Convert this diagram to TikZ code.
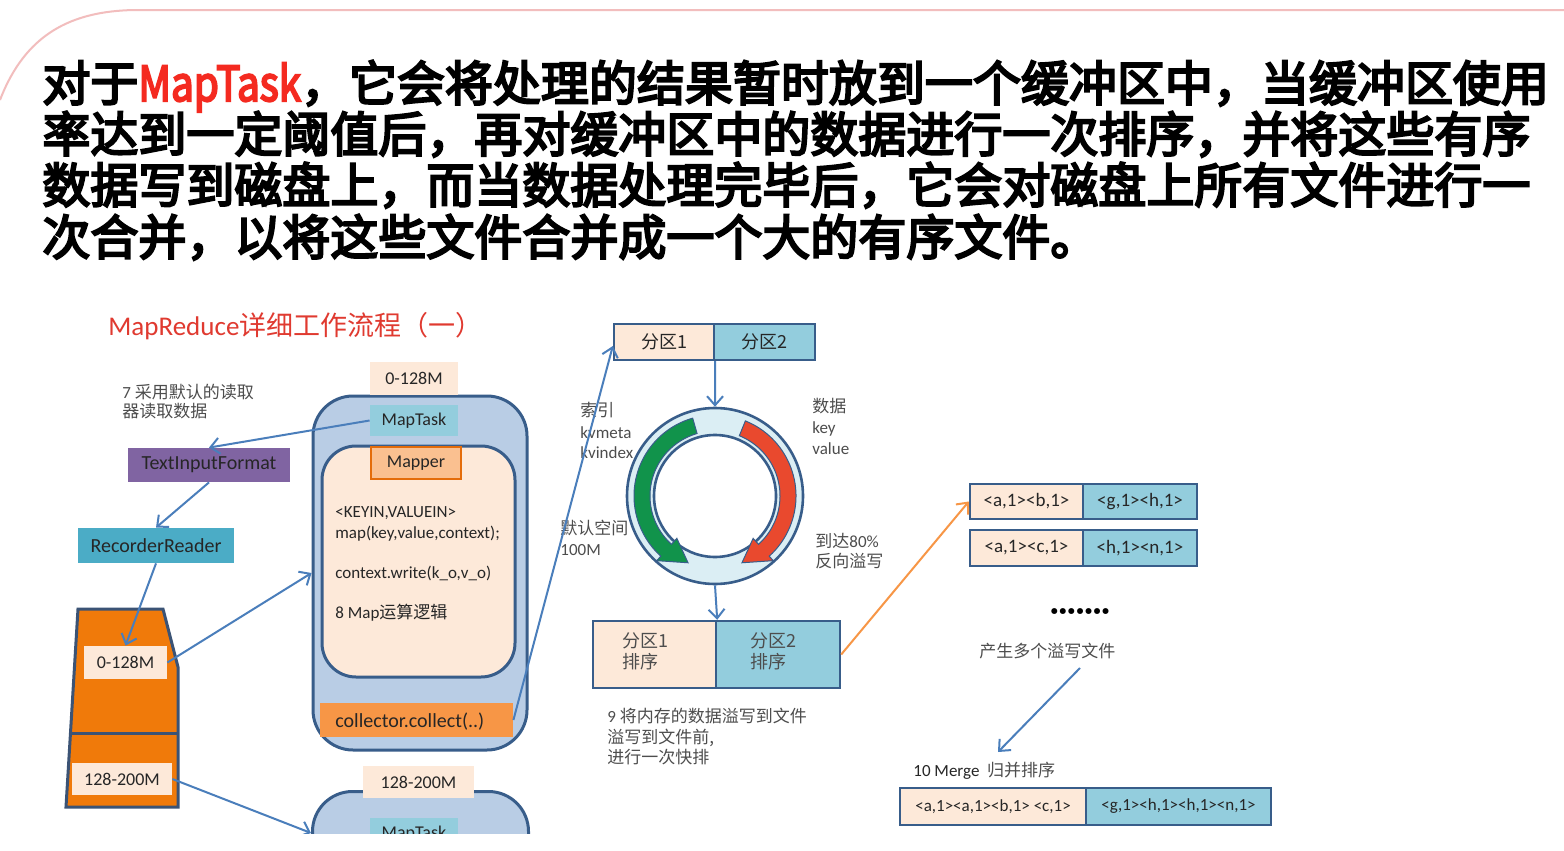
\documentclass[tikz,border=0pt]{standalone}
\usepackage{fontspec}
\setmainfont{Carlito}
\newfontfamily\cjk{Noto Sans CJK SC}
\newfontfamily\cjkheavy{Noto Sans CJK SC}[FakeBold=4.5]
\usetikzlibrary{arrows.meta}
\definecolor{peach}{HTML}{FDE9D9}
\definecolor{aqua}{HTML}{93CDDD}
\definecolor{boxblue}{HTML}{385D8A}
\definecolor{contfill}{HTML}{B9CDE5}
\definecolor{arrowblue}{HTML}{4A7EBB}
\definecolor{mapperor}{HTML}{FAC090}
\definecolor{mapperedge}{HTML}{E46C0A}
\definecolor{collor}{HTML}{F79646}
\definecolor{tifpurple}{HTML}{8064A2}
\definecolor{rrblue}{HTML}{4BACC6}
\definecolor{fileor}{HTML}{F07A0A}
\definecolor{fileedge}{HTML}{3B5375}
\definecolor{ringfill}{HTML}{DBEEF4}
\definecolor{ringgreen}{HTML}{11934B}
\definecolor{ringred}{HTML}{E9492E}
\definecolor{labelgray}{HTML}{4D4D4D}
\definecolor{celltext}{HTML}{262626}
\definecolor{titlered}{HTML}{E03A30}
\definecolor{headred}{HTML}{F42A20}
\definecolor{pinkline}{HTML}{F2BDBD}
\definecolor{spillor}{HTML}{F79646}
\begin{document}
\begin{tikzpicture}[x=0.5pt,y=-0.5pt,
  lbl/.style={inner sep=0pt, anchor=base west, text=labelgray, font=\fontsize{8.5pt}{10pt}\selectfont},
  boxtxt/.style={inner sep=0pt, text=celltext, font=\fontsize{9pt}{10pt}\selectfont},
  bigbox/.style={boxtxt, font=\fontsize{10pt}{11pt}\selectfont},
  peachcell/.style={boxtxt, fill=peach, draw=boxblue, line width=1.2pt},
  aquacell/.style={boxtxt, fill=aqua, draw=boxblue, line width=1.2pt},
  spillfont/.style={font=\fontsize{9.5pt}{10pt}\selectfont},
  mergefont/.style={font=\fontsize{8.5pt}{9pt}\selectfont},
  container/.style={draw=boxblue, line width=1.5pt, fill=contfill, rounded corners=20pt, inner sep=0pt},
  conn/.style={draw=arrowblue, line width=1pt, -{Straight Barb[length=4.5pt,width=8pt]}},
  heading/.style={inner sep=0pt, anchor=base west, font=\cjkheavy\fontsize{24pt}{26pt}\selectfont}]

\useasboundingbox (0,0) rectangle (1564,851);
\fill[white] (0,0) rectangle (1564,851);

\draw[pinkline, line width=1pt] (0,100) .. controls (25,35) and (70,11) .. (135,10) -- (1564,10);

% heading
\node[heading] (h1) at (42,101) {对于\scalebox{0.84}[1]{\textcolor{headred}{MapTask}}，它会将处理的结果暂时放到一个缓冲区中，当缓冲区使用};
\node[heading] (h2) at (42,152) {率达到一定阈值后，再对缓冲区中的数据进行一次排序，并将这些有序};
\node[heading] (h3) at (42,203) {数据写到磁盘上，而当数据处理完毕后，它会对磁盘上所有文件进行一};
\node[heading] (h4) at (42,255) {次合并，以将这些文件合并成一个大的有序文件。};

% title
\node[inner sep=0pt, anchor=base west, text=titlered, font=\fontsize{13.5pt}{15pt}\selectfont] (title) at (108,335) {MapReduce{\cjk 详细工作流程（一）}};

% container 1
\node[container, minimum width=107pt, minimum height=177pt] (cont1) at (420,573) {};
\node[boxtxt, fill=peach, minimum width=44pt, minimum height=16.5pt] (top0128) at (414,378) {0-128M};
\node[boxtxt, fill=aqua, minimum width=44pt, minimum height=15.5pt] (maptask1) at (414,420.5) {MapTask};
\node[draw=boxblue, line width=1.5pt, fill=peach, rounded corners=17pt, minimum width=96.5pt, minimum height=115.5pt, inner sep=0pt] (mapperbox) at (418.5,561.5) {};
\node[boxtxt, fill=mapperor, draw=mapperedge, line width=1pt, minimum width=45pt, minimum height=16pt] (mapper) at (416,463) {Mapper};
\node[lbl, text=celltext] (k1) at (335,517) {<KEYIN,VALUEIN>};
\node[lbl, text=celltext] (k2) at (335,538) {map(key,value,context);};
\node[lbl, text=celltext] (k3) at (335,578) {context.write(k\_o,v\_o)};
\node[lbl, text=celltext] (k4) at (335,618) {8 Map{\cjk 运算逻辑}};
\node[fill=collor, minimum width=96.5pt, minimum height=17pt, inner sep=0pt] (collector) at (416.5,720) {};
\node[boxtxt, anchor=base west, font=\fontsize{10pt}{11pt}\selectfont] (colltxt) at (335,727) {collector.collect(..)};

% reader side
\node[bigbox, fill=tifpurple, minimum width=81pt, minimum height=17pt] (tif) at (209,465) {TextInputFormat};
\node[bigbox, fill=rrblue, minimum width=78pt, minimum height=17.5pt] (rr) at (156,545.5) {RecorderReader};
\node[lbl] (note7a) at (122,398) {7 {\cjk 采用默认的读取}};
\node[lbl] (note7b) at (122,417) {\cjk 器读取数据};

% file
\draw[fill=fileor, draw=fileedge, line width=1.5pt] (78,609) -- (163,609) -- (178,667) -- (178,807) -- (66,807) -- cycle;
\draw[fileedge, line width=1.5pt] (70.5,733) -- (178,733);
\node[boxtxt, fill=peach, minimum width=41.5pt, minimum height=16.5pt] (f0128) at (125.5,662.5) {0-128M};
\node[boxtxt, fill=peach, minimum width=50pt, minimum height=16pt] (f128200) at (122,779) {128-200M};

% container 2 (cut off)
\begin{scope}
\clip (0,0) rectangle (1564,833);
\node[container, minimum width=108pt, minimum height=100pt, anchor=north west] (cont2) at (311,790) {};
\node[boxtxt, fill=aqua, minimum width=44pt, minimum height=16pt] (maptask2) at (414,834) {MapTask};
\coordinate (c2in) at (311,833);
\draw[conn] (f128200.east) -- (c2in);
\end{scope}
\node[boxtxt, fill=peach, minimum width=55.5pt, minimum height=16pt] (top128200) at (418.5,782) {128-200M};

% partitions top
\node[peachcell, minimum width=50pt, minimum height=18pt] (p1) at (664,342) {\cjk 分区1};
\node[aquacell, minimum width=50.5pt, minimum height=18pt] (p2) at (764.5,342) {\cjk 分区2};

% ring buffer
\node[circle, draw=boxblue, line width=1.3pt, fill=ringfill, minimum size=88pt, inner sep=0pt] (ringouter) at (715,496) {};
\node[circle, draw=boxblue, line width=1.3pt, fill=white, minimum size=61pt, inner sep=0pt] (ringinner) at (715,496) {};
\begin{scope}[shift={(715,496)}, yscale=-1]
\fill[ringgreen, draw=boxblue, line width=0.5pt] (106:81) arc[start angle=106, end angle=228, radius=81] -- (228:87) -- (248:72) -- (228:57) -- (228:65) arc[start angle=228, end angle=106, radius=65] -- cycle;
\fill[ringred, draw=boxblue, line width=0.5pt] (68:81) arc[start angle=68, end angle=-48, radius=81] -- (-48:87) -- (-68:72) -- (-48:57) -- (-48:65) arc[start angle=-48, end angle=68, radius=65] -- cycle;
\end{scope}
\node[lbl] (idx1) at (580,416) {\cjk 索引};
\node[lbl] (idx2) at (580,438) {kvmeta};
\node[lbl] (idx3) at (580,458) {kvindex};
\node[lbl] (dat1) at (812,412) {\cjk 数据};
\node[lbl] (dat2) at (812,433) {key};
\node[lbl] (dat3) at (812,454) {value};
\node[lbl] (sp1) at (560,534) {\cjk 默认空间};
\node[lbl] (sp2) at (560,555) {100M};
\node[lbl] (th1) at (815,547) {{\cjk 到达}80\%};
\node[lbl] (th2) at (815,567) {\cjk 反向溢写};

% sorted partitions
\node[peachcell, minimum width=61.5pt, minimum height=33.5pt] (s1) at (654.5,654.5) {};
\node[aquacell, minimum width=62pt, minimum height=33.5pt] (s2) at (778,654.5) {};
\node[lbl, font=\fontsize{9pt}{10pt}\selectfont] (s1a) at (622,647) {\cjk 分区1};
\node[lbl, font=\fontsize{9pt}{10pt}\selectfont] (s1b) at (622,668) {\cjk 排序};
\node[lbl, font=\fontsize{9pt}{10pt}\selectfont] (s2a) at (750,647) {\cjk 分区2};
\node[lbl, font=\fontsize{9pt}{10pt}\selectfont] (s2b) at (750,668) {\cjk 排序};
\node[lbl] (n9a) at (607,722) {9 {\cjk 将内存的数据溢写到文件}};
\node[lbl] (n9b) at (607,743) {\cjk 溢写到文件前,};
\node[lbl] (n9c) at (607,763) {\cjk 进行一次快排};

% spill files
\node[peachcell, spillfont, minimum width=56.5pt, minimum height=17.5pt] (r1a) at (1026.5,501.5) {<a,1><b,1>};
\node[aquacell, spillfont, minimum width=57pt, minimum height=17.5pt] (r1b) at (1140,501.5) {<g,1><h,1>};
\node[peachcell, spillfont, minimum width=56.5pt, minimum height=18pt] (r2a) at (1026.5,548) {<a,1><c,1>};
\node[aquacell, spillfont, minimum width=57pt, minimum height=18pt] (r2b) at (1140,548) {<h,1><n,1>};
\node[inner sep=0pt, font=\bfseries\fontsize{16pt}{16pt}\selectfont] (dots) at (1080,615) {·······};
\node[lbl] (spilltxt) at (979,657) {\cjk 产生多个溢写文件};
\coordinate (a1) at (1080,668);
\coordinate (a2) at (998,752);
\draw[conn] (a1) -- (a2);
\node[lbl, text=celltext] (mergelbl) at (913,776) {10 Merge\ \ {\cjk\color{labelgray} 归并排序}};
\node[peachcell, mergefont, minimum width=93pt, minimum height=18.5pt] (m1) at (993,806.5) {<a,1><a,1><b,1> <c,1>};
\node[aquacell, mergefont, minimum width=92.5pt, minimum height=18.5pt] (m2) at (1178.5,806.5) {<g,1><h,1><h,1><n,1>};

% connectors
\draw[conn] (maptask1.west) -- (tif.north);
\draw[conn] (tif.south) -- (rr.north);
\draw[conn] (rr.south) -- (f0128.north);
\draw[conn] (f0128.east) -- (cont1.west);
\draw[conn] (collector.east) -- ([yshift=-2pt]p1.west);
\draw[conn] (p1.south east) -- (ringouter.north);
\draw[conn] (ringouter.south) -- (s1.north east);
\draw[conn, draw=spillor] (s2.east) -- (r1a.west);
\end{tikzpicture}
\end{document}
